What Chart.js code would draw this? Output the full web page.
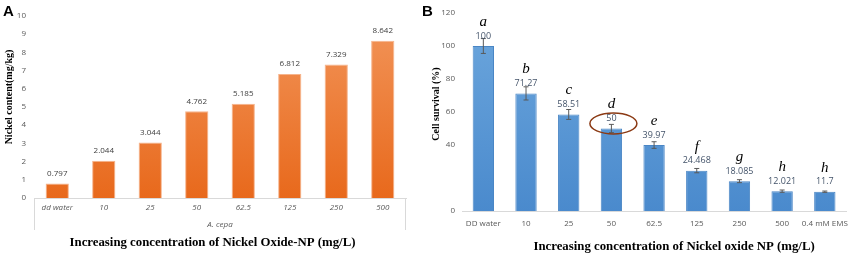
<!DOCTYPE html>
<html>
<head>
<meta charset="utf-8">
<script src="https://cdn.jsdelivr.net/npm/chart.js@4/dist/chart.umd.min.js"></script>
<style>
  html, body { margin: 0; padding: 0; background: #fff; }
  #wrap { position: relative; width: 856px; height: 257px; overflow: hidden; }
  .panel { position: absolute; top: 0; width: 428px; height: 257px; }
  .tag { position: absolute; top: 2px; font: bold 15px "Liberation Sans", Arial, sans-serif; color: #000; }
</style>
</head>
<body>
<div id="wrap">
  <div class="panel" style="left:0"><canvas id="chartA" width="428" height="257"></canvas></div>
  <div class="panel" style="left:428px"><canvas id="chartB" width="428" height="257"></canvas></div>
  <div class="tag" style="left:3px">A</div>
  <div class="tag" style="left:422px">B</div>
</div>
<script>
// panel A data
const nickelLabels = ["dd water", "10", "25", "50", "62.5", "125", "250", "500"];
const nickelContent = [0.797, 2.044, 3.044, 4.762, 5.185, 6.812, 7.329, 8.642];

// panel B data
const survivalLabels = ["DD water", "10", "25", "50", "62.5", "125", "250", "500", "0.4 mM EMS"];
const cellSurvival = [100, 71.27, 58.51, 50, 39.97, 24.468, 18.085, 12.021, 11.7];
const survivalError = [4.5, 4, 3, 2.5, 2, 1.3, 0.9, 0.7, 0.4];
const survivalGroups = ["a", "b", "c", "d", "e", "f", "g", "h", "h"];

const tickFont = { family: "'Open Sans', 'Liberation Sans', sans-serif", size: 8 };
const serifBold = "'Liberation Serif', 'Times New Roman', serif";

function gradient(top, bottom) {
  return function (c) {
    const area = c.chart.chartArea;
    if (!area) return bottom;
    const g = c.chart.ctx.createLinearGradient(0, area.top, 0, area.bottom);
    g.addColorStop(0, top);
    g.addColorStop(1, bottom);
    return g;
  };
}

// value labels, error bars, letters and axis titles drawn around the bars
function barText(cfg) {
  return {
    id: "barText",
    afterDatasetsDraw(chart) {
      const ctx = chart.ctx;
      const meta = chart.getDatasetMeta(0);
      const data = chart.data.datasets[0].data;
      const y = chart.scales.y;
      const area = chart.chartArea;
      ctx.save();
      meta.data.forEach(function (bar, i) {
        if (cfg.errors) {
          const hi = y.getPixelForValue(data[i] + cfg.errors[i]);
          const lo = y.getPixelForValue(data[i] - cfg.errors[i]);
          ctx.strokeStyle = "#595959";
          ctx.lineWidth = 1;
          ctx.beginPath();
          ctx.moveTo(bar.x, hi); ctx.lineTo(bar.x, lo);
          ctx.moveTo(bar.x - 2.5, hi); ctx.lineTo(bar.x + 2.5, hi);
          ctx.moveTo(bar.x - 2.5, lo); ctx.lineTo(bar.x + 2.5, lo);
          ctx.stroke();
        }
        ctx.font = cfg.labelFont;
        ctx.fillStyle = cfg.labelColor;
        ctx.textAlign = "center";
        ctx.textBaseline = "middle";
        ctx.fillText(String(data[i]), bar.x, bar.y - 10);
        if (cfg.letters) {
          ctx.font = "italic 15px " + serifBold;
          ctx.fillStyle = "#000";
          ctx.fillText(cfg.letters[i], bar.x, bar.y - 24);
        }
        if (cfg.ring === i) {
          ctx.strokeStyle = "#8B3A14";
          ctx.lineWidth = 1.5;
          ctx.beginPath();
          ctx.ellipse(bar.x + 2, bar.y - 5, 23.5, 10.5, 0, 0, Math.PI * 2);
          ctx.stroke();
        }
      });
      if (cfg.edges) {
        ctx.strokeStyle = "#D9D9D9";
        ctx.lineWidth = 1;
        ctx.beginPath();
        ctx.moveTo(area.left + 0.5, area.bottom); ctx.lineTo(area.left + 0.5, area.bottom + 32);
        ctx.moveTo(area.right - 0.5, area.bottom); ctx.lineTo(area.right - 0.5, area.bottom + 32);
        ctx.stroke();
      }
      ctx.fillStyle = "#000";
      ctx.textAlign = "center";
      ctx.textBaseline = "middle";
      ctx.font = "bold 12.8px " + serifBold;
      ctx.fillText(cfg.xTitle, (area.left + area.right) / 2 + cfg.xShift, cfg.xTitleY);
      ctx.font = "bold 10px " + serifBold;
      ctx.translate(cfg.yTitleX, (area.top + area.bottom) / 2 + cfg.yShift);
      ctx.rotate(-Math.PI / 2);
      ctx.fillText(cfg.yTitle, 0, 0);
      ctx.restore();
    },
  };
}

new Chart(document.getElementById("chartA"), {
  type: "bar",
  data: {
    labels: nickelLabels,
    datasets: [{
      data: nickelContent,
      backgroundColor: gradient("#F2955A", "#E8691C"),
      borderColor: "#F6B48C",
      borderWidth: 1,
      barPercentage: 0.5,
      categoryPercentage: 1,
    }],
  },
  options: {
    responsive: false,
    animation: false,
    devicePixelRatio: 1,
    layout: { padding: { top: 16, right: 22, left: 0, bottom: 25.6 } },
    plugins: {
      legend: { display: false },
      tooltip: { enabled: false },
    },
    scales: {
      x: {
        grid: { display: false, drawTicks: false },
        border: { display: true, color: "#D9D9D9" },
        ticks: { color: "#595959", font: { ...tickFont, style: "italic" }, padding: 5, maxRotation: 0, autoSkip: false },
        title: {
          display: true,
          text: "A. cepa",
          color: "#595959",
          font: { ...tickFont, style: "italic" },
          padding: { top: 2, bottom: 2 },
        },
        afterFit(scale) { scale.height = 33.4; },
      },
      y: {
        min: 0,
        max: 10,
        ticks: { stepSize: 1, color: "#595959", font: tickFont, padding: 8 },
        grid: { display: false, drawTicks: false },
        border: { display: false },
        afterFit(scale) { scale.width = 34; },
      },
    },
  },
  plugins: [barText({
    labelFont: "8px 'Open Sans', sans-serif",
    labelColor: "#404040",
    edges: true,
    xTitle: "Increasing concentration of Nickel Oxide-NP (mg/L)",
    xShift: -7.5,
    xTitleY: 243,
    yTitle: "Nickel content(mg/kg)",
    yTitleX: 9,
    yShift: -10,
  })],
});

new Chart(document.getElementById("chartB"), {
  type: "bar",
  data: {
    labels: survivalLabels,
    datasets: [{
      data: cellSurvival,
      backgroundColor: gradient("#6DA7DD", "#4A8ACD"),
      borderColor: "#4A86C5",
      borderWidth: 1,
      barPercentage: 0.5,
      categoryPercentage: 1,
    }],
  },
  options: {
    responsive: false,
    animation: false,
    devicePixelRatio: 1,
    layout: { padding: { top: 13, right: 3, left: 0, bottom: 0 } },
    plugins: {
      legend: { display: false },
      tooltip: { enabled: false },
    },
    scales: {
      x: {
        grid: { display: false, drawTicks: false },
        border: { display: true, color: "#D9D9D9" },
        ticks: { color: "#595959", font: tickFont, padding: 8, maxRotation: 0, autoSkip: false },
        afterFit(scale) { scale.height = 46; },
      },
      y: {
        min: 0,
        max: 120,
        ticks: {
          stepSize: 20,
          color: "#595959",
          font: tickFont,
          padding: 7,
          callback: (v) => (v === 20 ? "" : v),
        },
        grid: { display: false, drawTicks: false },
        border: { display: false },
        afterFit(scale) { scale.width = 34; },
      },
    },
  },
  plugins: [barText({
    labelFont: "9px 'Open Sans', sans-serif",
    labelColor: "#44546A",
    errors: survivalError,
    letters: survivalGroups,
    ring: 3,
    xTitle: "Increasing concentration of Nickel oxide NP (mg/L)",
    xShift: 20,
    xTitleY: 247,
    yTitle: "Cell survival (%)",
    yTitleX: 8,
    yShift: -8,
  })],
});
</script>
</body>
</html>
